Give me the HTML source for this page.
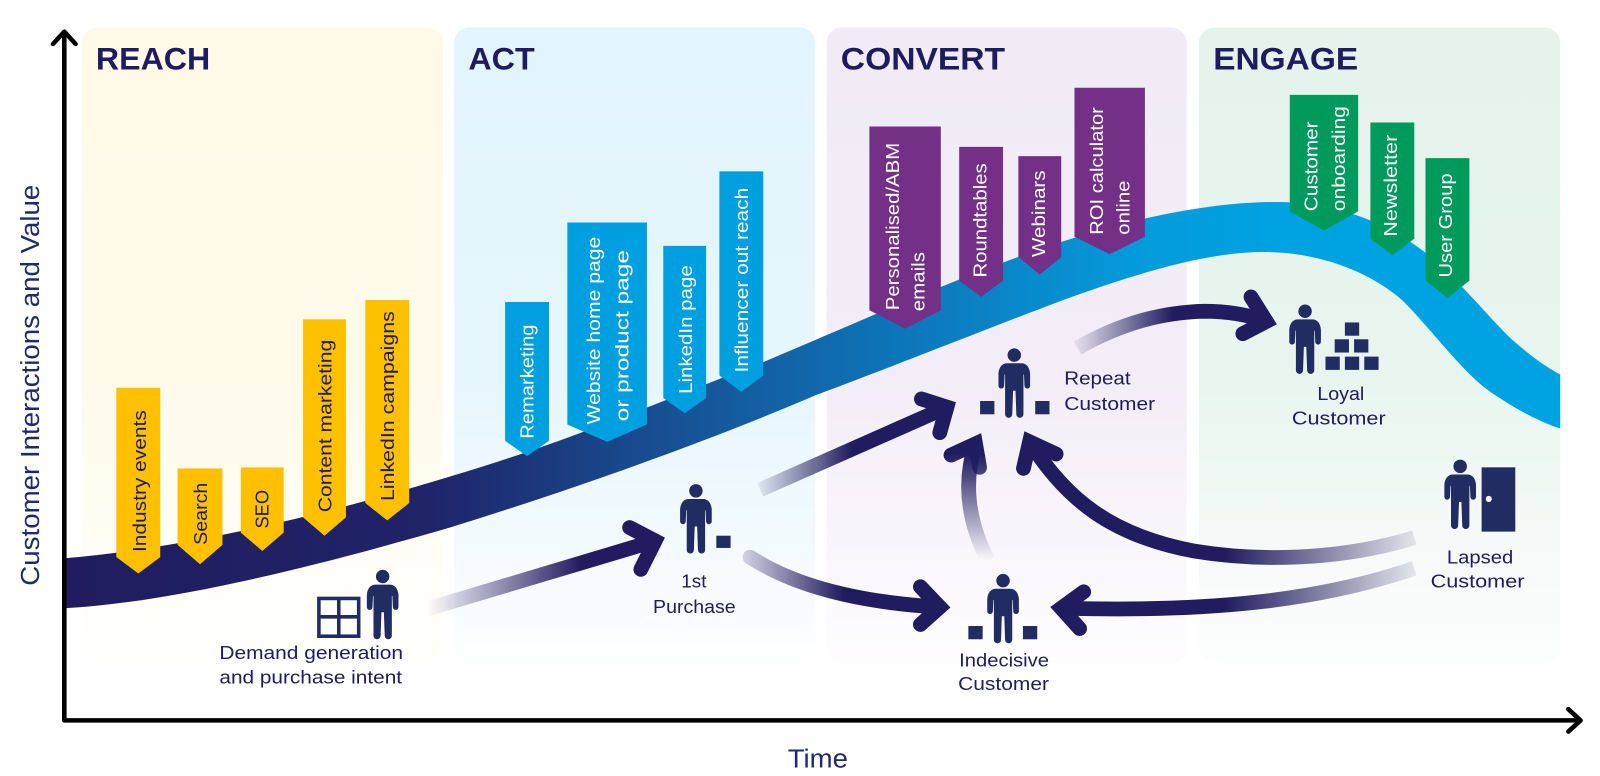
<!DOCTYPE html>
<html><head><meta charset="utf-8"><style>
html,body{margin:0;padding:0;background:#fff;width:1600px;height:776px;overflow:hidden}
svg{display:block}
text{font-family:"Liberation Sans",sans-serif}
.h{font-weight:bold;font-size:31px;fill:#1e1b5e}
.l{font-size:18.5px;fill:#1e1b5e}
.a{font-size:25px;fill:#1e2a6a}
.y{font-size:18px;fill:#1e1b5e}
.w{font-size:18px;fill:#fff}
.p{fill:#212c63}
.arr{fill:none;stroke-width:14.5}
.hd{fill:none;stroke-width:14.5;stroke-linecap:round;stroke-linejoin:miter;stroke-miterlimit:6}
</style></head><body>
<svg width="1600" height="776" viewBox="0 0 1568 760.5" xmlns="http://www.w3.org/2000/svg">
<defs>
<linearGradient id="g1" x1="0" y1="0" x2="0" y2="1"><stop offset="0" stop-color="#fff9e8"/><stop offset=".55" stop-color="#fffaea"/><stop offset="1" stop-color="#fffffd"/></linearGradient>
<linearGradient id="g2" x1="0" y1="0" x2="0" y2="1"><stop offset="0" stop-color="#e2f4fc"/><stop offset=".55" stop-color="#e6f6fd"/><stop offset="1" stop-color="#fdfeff"/></linearGradient>
<linearGradient id="g3" x1="0" y1="0" x2="0" y2="1"><stop offset="0" stop-color="#f0ebf5"/><stop offset=".55" stop-color="#f2edf6"/><stop offset="1" stop-color="#fefdfe"/></linearGradient>
<linearGradient id="g4" x1="0" y1="0" x2="0" y2="1"><stop offset="0" stop-color="#e5f3ec"/><stop offset=".55" stop-color="#e8f5ef"/><stop offset="1" stop-color="#fdfefe"/></linearGradient>
<linearGradient id="band" gradientUnits="userSpaceOnUse" x1="65" y1="0" x2="1529" y2="0">
<stop offset="0" stop-color="#201c5f"/><stop offset=".24" stop-color="#1f2368"/><stop offset=".4" stop-color="#184f93"/><stop offset=".55" stop-color="#0d74b8"/><stop offset=".72" stop-color="#049bdb"/><stop offset=".82" stop-color="#00a3e2"/><stop offset="1" stop-color="#00a3e2"/>
</linearGradient>
<linearGradient id="a1" gradientUnits="userSpaceOnUse" x1="418" y1="0" x2="570" y2="0"><stop offset="0" stop-color="#201c5f" stop-opacity="0"/><stop offset="1" stop-color="#201c5f"/></linearGradient>
<linearGradient id="a2" gradientUnits="userSpaceOnUse" x1="740" y1="0" x2="835" y2="0"><stop offset="0" stop-color="#201c5f" stop-opacity=".05"/><stop offset="1" stop-color="#201c5f"/></linearGradient>
<linearGradient id="a3" gradientUnits="userSpaceOnUse" x1="725" y1="0" x2="826" y2="0"><stop offset="0" stop-color="#201c5f" stop-opacity=".15"/><stop offset="1" stop-color="#201c5f"/></linearGradient>
<linearGradient id="a4" gradientUnits="userSpaceOnUse" x1="0" y1="549" x2="0" y2="445"><stop offset="0" stop-color="#201c5f" stop-opacity="0"/><stop offset="1" stop-color="#201c5f"/></linearGradient>
<linearGradient id="a5" gradientUnits="userSpaceOnUse" x1="1390" y1="0" x2="1200" y2="0"><stop offset="0" stop-color="#201c5f" stop-opacity=".08"/><stop offset="1" stop-color="#201c5f"/></linearGradient>
<linearGradient id="a7" gradientUnits="userSpaceOnUse" x1="1056" y1="0" x2="1150" y2="0"><stop offset="0" stop-color="#201c5f" stop-opacity=".08"/><stop offset="1" stop-color="#201c5f"/></linearGradient>
<symbol id="person" overflow="visible"><circle cx="0" cy="0" r="6.6" class="p"/><path class="p" d="M-7,8 H7 C12,8 15,12 15.5,18 L15.5,30 A2.7,2.7 0 0 1 10,30 L9.5,19 L9,19 L9,58 A3.5,3.5 0 0 1 2,58 L1.2,35 L-1.2,35 L-2,58 A3.5,3.5 0 0 1 -9,58 L-9,19 L-9.5,19 L-10,30 A2.7,2.7 0 0 1 -15.5,30 L-15.5,18 C-15,12 -12,8 -7,8 Z"/></symbol>
</defs>

<rect x="80" y="27" width="354" height="623" rx="15" fill="url(#g1)"/>
<rect x="445" y="27" width="354" height="623" rx="15" fill="url(#g2)"/>
<rect x="810" y="27" width="353" height="623" rx="15" fill="url(#g3)"/>
<rect x="1175" y="27" width="354" height="623" rx="15" fill="url(#g4)"/>

<path fill="url(#band)" d="M65,547 C170,538 300,510 441,467 C560,432 660,388 750,354 C850,312 960,262 1053,233 C1120,212 1190,198 1250,198 C1310,198 1360,218 1400,250 C1435,280 1458,310 1482,333 C1497,346 1512,358 1529,367 L1529,420 C1505,412 1480,398 1455,380 C1430,360 1400,320 1375,295 C1345,268 1295,247 1239,247 C1190,247 1130,262 1042,294 C960,325 860,365 800,387 C700,430 570,477 441,517 C310,555 170,590 65,596 Z"/>

<text class="h" x="94" y="68" textLength="112" lengthAdjust="spacingAndGlyphs">REACH</text>
<text class="h" x="459" y="68" textLength="65" lengthAdjust="spacingAndGlyphs">ACT</text>
<text class="h" x="824" y="68" textLength="161" lengthAdjust="spacingAndGlyphs">CONVERT</text>
<text class="h" x="1189" y="68" textLength="142" lengthAdjust="spacingAndGlyphs">ENGAGE</text>

<!-- yellow -->
<g fill="#ffc000">
<path d="M114,380H157V546L135.500,562L114,546Z"/>
<path d="M174,459H218V534L196,553L174,534Z"/>
<path d="M236,458H278V522L257,540L236,522Z"/>
<path d="M297,313H339V507L318,525L297,507Z"/>
<path d="M358,294H401V493L379.500,510L358,493Z"/>
</g>
<text class="y" transform="translate(143,541) rotate(-90)" textLength="139" lengthAdjust="spacingAndGlyphs">Industry events</text>
<text class="y" transform="translate(203,534) rotate(-90)" textLength="61" lengthAdjust="spacingAndGlyphs">Search</text>
<text class="y" transform="translate(263,518) rotate(-90)" textLength="38" lengthAdjust="spacingAndGlyphs">SEO</text>
<text class="y" transform="translate(325,502) rotate(-90)" textLength="169" lengthAdjust="spacingAndGlyphs">Content marketing</text>
<text class="y" transform="translate(386,491) rotate(-90)" textLength="186" lengthAdjust="spacingAndGlyphs">LinkedIn campaigns</text>

<!-- blue -->
<g fill="#009fe0">
<path d="M495,296H538V432L516.500,447L495,432Z"/>
<path d="M556,218H634V416L595,433L556,416Z"/>
<path d="M650,241H692V390L671,405L650,390Z"/>
<path d="M705,168H748V368L726.500,384L705,368Z"/>
</g>
<text class="w" transform="translate(523,430) rotate(-90)" textLength="112" lengthAdjust="spacingAndGlyphs">Remarketing</text>
<text class="w" transform="translate(588,416) rotate(-90)" textLength="184" lengthAdjust="spacingAndGlyphs">Website home page</text>
<text class="w" transform="translate(616,413) rotate(-90)" textLength="168" lengthAdjust="spacingAndGlyphs">or product page</text>
<text class="w" transform="translate(678,386) rotate(-90)" textLength="126" lengthAdjust="spacingAndGlyphs">LinkedIn page</text>
<text class="w" transform="translate(733,365) rotate(-90)" textLength="181" lengthAdjust="spacingAndGlyphs">Influencer out reach</text>

<!-- purple -->
<g fill="#742f87">
<path d="M852,124H922V304L887,322L852,304Z"/>
<path d="M940,144H983V275L961.500,291L940,275Z"/>
<path d="M998,153H1040V252L1019,269L998,252Z"/>
<path d="M1053,86H1122V232L1087.500,249L1053,232Z"/>
</g>
<text class="w" transform="translate(881,304) rotate(-90)" textLength="164" lengthAdjust="spacingAndGlyphs">Personalised/ABM</text>
<text class="w" transform="translate(906,305) rotate(-90)" textLength="58" lengthAdjust="spacingAndGlyphs">emails</text>
<text class="w" transform="translate(967,272) rotate(-90)" textLength="112" lengthAdjust="spacingAndGlyphs">Roundtables</text>
<text class="w" transform="translate(1024,252) rotate(-90)" textLength="85" lengthAdjust="spacingAndGlyphs">Webinars</text>
<text class="w" transform="translate(1081,230) rotate(-90)" textLength="125" lengthAdjust="spacingAndGlyphs">ROI calculator</text>
<text class="w" transform="translate(1107,230) rotate(-90)" textLength="53" lengthAdjust="spacingAndGlyphs">online</text>

<!-- green -->
<g fill="#009a5c">
<path d="M1264,93H1331V207L1297.500,226L1264,207Z"/>
<path d="M1343,120H1386V234L1364.500,250L1343,234Z"/>
<path d="M1397,155H1440V275L1418.500,292L1397,275Z"/>
</g>
<text class="w" transform="translate(1291,207) rotate(-90)" textLength="88" lengthAdjust="spacingAndGlyphs">Customer</text>
<text class="w" transform="translate(1318,207) rotate(-90)" textLength="103" lengthAdjust="spacingAndGlyphs">onboarding</text>
<text class="w" transform="translate(1369,232) rotate(-90)" textLength="100" lengthAdjust="spacingAndGlyphs">Newsletter</text>
<text class="w" transform="translate(1423,272) rotate(-90)" textLength="102" lengthAdjust="spacingAndGlyphs">User Group</text>

<!-- axes -->
<g fill="none" stroke="#000" stroke-width="4.500" stroke-linecap="round" stroke-linejoin="round">
<path d="M63,33V706H1547"/>
<path d="M52,43L63,31L74,43"/>
<path d="M1537,695L1549,706L1537,717"/>
</g>
<text class="a" transform="translate(38,574) rotate(-90)" textLength="393" lengthAdjust="spacingAndGlyphs">Customer Interactions and Value</text>
<text class="a" x="772" y="752" textLength="59" lengthAdjust="spacingAndGlyphs">Time</text>

<!-- arrows -->
<path class="arr" stroke="url(#a1)" d="M418,597 L642,530"/>
<path class="hd" stroke="#201c5f" d="M617,517 L642,530 L628,558"/>
<path class="arr" stroke="url(#a2)" d="M745,480 L928,399"/>
<path class="hd" stroke="#201c5f" d="M903,391 L928,399 L921,424"/>
<path class="arr" stroke="url(#a3)" stroke-linecap="round" d="M735,546 Q800,588 921,595"/>
<path class="hd" stroke="#201c5f" d="M902,575 L921,595 L902,612"/>
<path class="arr" stroke="url(#a4)" d="M968,549 Q938,490 956,435"/>
<path class="hd" stroke="url(#a4)" d="M932,446 L956,435 L960,458"/>
<path class="arr" stroke="url(#a5)" d="M1386,527 C1310,550 1230,550 1170,540 C1090,525 1045,490 1009,433"/>
<path class="hd" stroke="#201c5f" d="M1035,445 L1009,433 L1003,459"/>
<path class="arr" stroke="url(#a5)" d="M1386,557 C1290,590 1180,600 1040,596"/>
<path class="hd" stroke="#201c5f" d="M1062,580 L1040,596 L1058,616"/>
<path class="arr" stroke="url(#a7)" d="M1056,341 C1100,316 1140,306 1180,305 C1205,305 1225,309 1241,315"/>
<path class="hd" stroke="#201c5f" d="M1226,291 L1241,315 L1218,327"/>

<!-- people -->
<use href="#person" x="375" y="565"/>
<rect x="312.500" y="586.500" width="39" height="37" fill="none" stroke="#212c63" stroke-width="3.500"/>
<path d="M332,586V624M312,604.500H352" stroke="#212c63" stroke-width="3.500"/>
<use href="#person" x="682" y="481"/>
<rect class="p" x="702" y="525" width="14" height="12"/>
<use href="#person" x="994" y="348"/>
<rect class="p" x="960.500" y="393" width="14" height="13"/><rect class="p" x="1014.500" y="393" width="14" height="13"/>
<use href="#person" x="983" y="569"/>
<rect class="p" x="949" y="613.500" width="14" height="13"/><rect class="p" x="1002.500" y="613.500" width="14" height="13"/>
<use href="#person" x="1279" y="305"/>
<g class="p">
<rect x="1318" y="316" width="14" height="13"/>
<rect x="1308" y="332.500" width="14" height="13"/><rect x="1327" y="332.500" width="14" height="13"/>
<rect x="1299" y="349.500" width="14" height="13"/><rect x="1318" y="349.500" width="14" height="13"/><rect x="1337" y="349.500" width="14" height="13"/>
</g>
<use href="#person" x="1431" y="457"/>
<rect class="p" x="1452" y="458" width="33" height="63"/>
<circle cx="1459" cy="489" r="3" fill="#fff"/>

<!-- labels -->
<text class="l" x="215" y="646" textLength="180" lengthAdjust="spacingAndGlyphs">Demand generation</text>
<text class="l" x="215" y="670" textLength="179" lengthAdjust="spacingAndGlyphs">and purchase intent</text>
<text class="l" x="680" y="576" text-anchor="middle">1st</text>
<text class="l" x="640" y="601" textLength="81" lengthAdjust="spacingAndGlyphs">Purchase</text>
<text class="l" x="1043" y="377" textLength="65" lengthAdjust="spacingAndGlyphs">Repeat</text>
<text class="l" x="1043" y="402" textLength="89" lengthAdjust="spacingAndGlyphs">Customer</text>
<text class="l" x="1291" y="392" textLength="46" lengthAdjust="spacingAndGlyphs">Loyal</text>
<text class="l" x="1266" y="416" textLength="92" lengthAdjust="spacingAndGlyphs">Customer</text>
<text class="l" x="1418" y="552" textLength="65" lengthAdjust="spacingAndGlyphs">Lapsed</text>
<text class="l" x="1402" y="576" textLength="92" lengthAdjust="spacingAndGlyphs">Customer</text>
<text class="l" x="940" y="653" textLength="88" lengthAdjust="spacingAndGlyphs">Indecisive</text>
<text class="l" x="939" y="676" textLength="89" lengthAdjust="spacingAndGlyphs">Customer</text>
</svg>
</body></html>
